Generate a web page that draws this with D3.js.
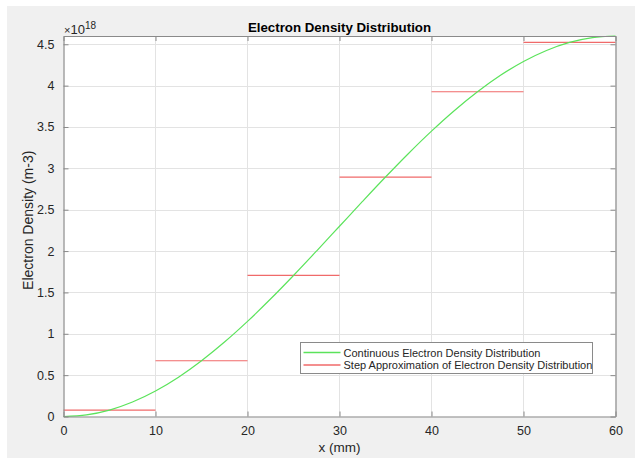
<!DOCTYPE html>
<html>
<head>
<meta charset="utf-8">
<script src="https://cdn.jsdelivr.net/npm/d3@7"></script>
<style>
  body { margin: 0; background: #fff; }
  svg { display: block; font-family: "Liberation Sans", Arial, sans-serif; }
</style>
</head>
<body>
<div id="chart"></div>
<script>
// x in mm, density in units of 1e18 m^-3
const xPos = [0, 2.5, 5, 7.5, 10, 12.5, 15, 17.5, 20, 22.5, 25, 27.5, 30,
  32.5, 35, 37.5, 40, 42.5, 45, 47.5, 50, 52.5, 55, 57.5, 60];
const density = [0, 0.02, 0.078, 0.175, 0.308, 0.475, 0.674, 0.90, 1.15, 1.42, 1.705, 2.0, 2.3,
  2.6, 2.895, 3.18, 3.45, 3.70, 3.926, 4.125, 4.292, 4.425, 4.522, 4.58, 4.6];
const stepStart = [0, 10, 20, 30, 40, 50];
const stepEnd = [10, 20, 30, 40, 50, 60];
const stepValue = [0.078, 0.674, 1.705, 2.895, 3.926, 4.522];
const xTicks = [0, 10, 20, 30, 40, 50, 60];
const yTicks = [0, 0.5, 1, 1.5, 2, 2.5, 3, 3.5, 4, 4.5];
const seriesNames = ["Continuous Electron Density Distribution",
  "Step Approximation of Electron Density Distribution"];

const W = 640, H = 458;
const m = { left: 63.5, right: 615.5, top: 36, bottom: 416.5 };
const green = "#5be35b", red = "#f06a6a", axisCol = "#8a8a8a", txt = "#262626";

const svg = d3.select("#chart").append("svg")
  .attr("width", W).attr("height", H);

svg.append("rect").attr("x", 7).attr("y", 6).attr("width", 628).attr("height", H - 6)
  .attr("fill", "#f0f0f0");

const x = d3.scaleLinear().domain([0, 60]).range([m.left, m.right]);
const y = d3.scaleLinear().domain([0, 4.6]).range([m.bottom, m.top]);

svg.append("rect").attr("x", m.left).attr("y", m.top)
  .attr("width", m.right - m.left).attr("height", m.bottom - m.top)
  .attr("fill", "#fff");

// grid
const grid = svg.append("g");
grid.selectAll(".gx").data(xTicks.slice(1, -1)).enter().append("line")
  .attr("x1", d => x(d)).attr("x2", d => x(d))
  .attr("y1", m.top).attr("y2", m.bottom)
  .attr("stroke", "#e3e3e3").attr("stroke-width", 1);
grid.selectAll(".gy").data(yTicks.slice(1)).enter().append("line")
  .attr("x1", m.left).attr("x2", m.right)
  .attr("y1", d => Math.round(y(d)) + 0.5).attr("y2", d => Math.round(y(d)) + 0.5)
  .attr("stroke", "#e3e3e3").attr("stroke-width", 1);

// step approximation
svg.selectAll(".step").data(stepValue).enter().append("line")
  .attr("x1", (d, i) => x(stepStart[i])).attr("x2", (d, i) => x(stepEnd[i]))
  .attr("y1", d => y(d)).attr("y2", d => y(d))
  .attr("stroke", red).attr("stroke-width", 1.2);

// continuous curve
const line = d3.line().x(d => x(d[0])).y(d => y(d[1])).curve(d3.curveMonotoneX);
svg.append("path")
  .datum(xPos.map((v, i) => [v, density[i]]))
  .attr("d", line)
  .attr("fill", "none").attr("stroke", green).attr("stroke-width", 1.2);

// axes (box with inward ticks on all sides)
const xAxisB = d3.axisBottom(x).tickValues(xTicks).tickSizeInner(-5).tickSizeOuter(0).tickPadding(10);
const xAxisT = d3.axisTop(x).tickValues(xTicks).tickSizeInner(-5).tickSizeOuter(0).tickFormat("");
const yAxisL = d3.axisLeft(y).tickValues(yTicks).tickSizeInner(-5).tickSizeOuter(0).tickPadding(9)
  .tickFormat(d3.format("~g"));
const yAxisR = d3.axisRight(y).tickValues(yTicks).tickSizeInner(-5).tickSizeOuter(0).tickFormat("");

function styleAxis(g) {
  g.select(".domain").attr("stroke", axisCol).attr("stroke-width", 1.2);
  g.selectAll(".tick line").attr("stroke", axisCol);
  g.selectAll(".tick text").attr("fill", txt).attr("font-size", 12.5)
    .attr("font-family", "Liberation Sans, Arial, sans-serif");
}
svg.append("g").attr("transform", `translate(0,${m.bottom})`).call(xAxisB).call(styleAxis);
svg.append("g").attr("transform", `translate(0,${m.top})`).call(xAxisT).call(styleAxis);
svg.append("g").attr("transform", `translate(${m.left},0)`).call(yAxisL).call(styleAxis);
svg.append("g").attr("transform", `translate(${m.right},0)`).call(yAxisR).call(styleAxis);

// labels
svg.append("text").attr("x", (m.left + m.right) / 2).attr("y", 32)
  .attr("text-anchor", "middle").attr("font-size", 13.3).attr("font-weight", "bold")
  .attr("fill", "#000").text("Electron Density Distribution");
svg.append("text").attr("x", (m.left + m.right) / 2).attr("y", 452)
  .attr("text-anchor", "middle").attr("font-size", 13.5).attr("fill", txt).text("x (mm)");
svg.append("text").attr("transform", `translate(33,${(m.top + m.bottom) / 2 - 6}) rotate(-90)`)
  .attr("text-anchor", "middle").attr("font-size", 14).attr("fill", txt)
  .text("Electron Density (m-3)");

const expo = svg.append("text").attr("x", 64).attr("y", 34).attr("fill", txt).attr("font-size", 13);
expo.append("tspan").attr("font-size", 11).text("×");
expo.append("tspan").text("10");
expo.append("tspan").attr("font-size", 10).attr("dy", -5).text("18");

// legend
const lg = svg.append("g").attr("transform", "translate(300.5,342.5)");
lg.append("rect").attr("width", 292).attr("height", 31)
  .attr("fill", "#fff").attr("stroke", "#8a8a8a").attr("stroke-width", 1);
seriesNames.forEach((name, i) => {
  const yy = 10 + i * 12.5;
  lg.append("line").attr("x1", 3).attr("x2", 40).attr("y1", yy).attr("y2", yy)
    .attr("stroke", i === 0 ? green : red).attr("stroke-width", 1.5);
  lg.append("text").attr("x", 43).attr("y", yy + 4).attr("font-size", 11)
    .attr("fill", txt).text(name);
});
</script>
</body>
</html>
